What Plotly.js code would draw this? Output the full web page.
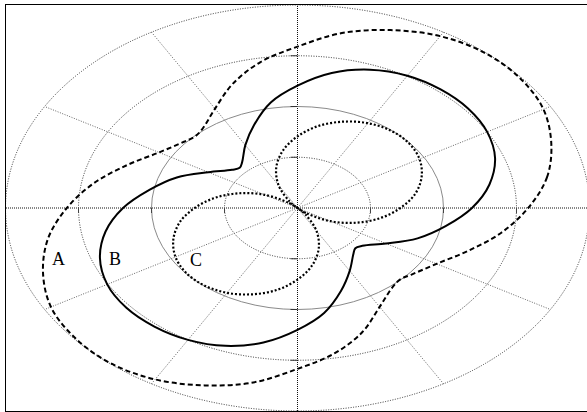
<!DOCTYPE html>
<html>
<head>
<meta charset="utf-8">
<script src="https://cdn.plot.ly/plotly-3.0.1.min.js"></script>
<style>html,body{margin:0;padding:0;background:#fff;}#chart{width:587px;height:412px;}</style>
</head>
<body>
<div id="chart"></div>
<script>
// Angles (degrees) at which the radii were read
var theta = [0,10,20,30,40,50,60,70,80,90,100,110,120,130,135,140,150,160,170,180,
             190,200,210,220,230,240,250,260,270,280,290,300,310,315,320,330,340,350,360];
// Curve A (dashed)
var rA = [3.16,3.47,3.70,3.89,3.98,3.99,3.91,3.73,3.50,3.18,2.92,2.60,2.26,2.03,1.99,2.03,2.19,2.48,2.83,3.16,
          3.47,3.71,3.90,3.98,3.99,3.90,3.72,3.49,3.17,2.91,2.60,2.25,2.03,1.99,2.04,2.20,2.48,2.83,3.16];
// Curve B (solid)
var rB = [2.39,2.67,2.88,3.00,3.05,3.05,3.01,2.90,2.70,2.41,2.11,1.74,1.43,1.18,1.12,1.17,1.41,1.76,2.06,2.39,
          2.67,2.88,3.01,3.06,3.05,3.00,2.89,2.69,2.40,2.10,1.74,1.43,1.19,1.12,1.16,1.40,1.75,2.06,2.39];
// Curve C (dotted)
var rC = [1.41,1.64,1.81,1.93,1.99,1.99,1.93,1.81,1.64,1.41,1.15,0.85,0.52,0.17,0.00,0.17,0.52,0.85,1.15,1.41,
          1.64,1.81,1.93,1.99,1.99,1.93,1.81,1.64,1.41,1.15,0.85,0.52,0.17,0.00,0.17,0.52,0.85,1.15,1.41];
// Grid
var rings = [1,2,3,4];
var spokes = [30,60,120,150,210,240,300,330];
var tickR = [-3,-2,-1,1,2,3];
// Curve labels
var labels = ['A','B','C'];
var labelR = [3.43,2.70,1.73];
var labelAng = [197,202,216.5];

var D = Math.PI/180;
function toXY(th, r){
  var x=[], y=[];
  for (var i=0;i<th.length;i++){ x.push(r[i]*Math.cos(th[i]*D)); y.push(r[i]*Math.sin(th[i]*D)); }
  return {x:x,y:y};
}
var A = toXY(theta, rA), B = toXY(theta, rB);

// split C into its two lobes (the curve passes through the origin at 135 and 315 deg)
var i135 = theta.indexOf(135), i315 = theta.indexOf(315);
var th1 = [], r1 = [];
for (var i=i315;i<theta.length-1;i++){ th1.push(theta[i]); r1.push(rC[i]); }
for (var i=0;i<=i135;i++){ th1.push(theta[i]); r1.push(rC[i]); }
var th2 = theta.slice(i135, i315+1), r2 = rC.slice(i135, i315+1);
var C1 = toXY(th1, r1), C2 = toXY(th2, r2);

var traces = [
  {x:A.x, y:A.y, mode:'lines', line:{color:'#000', width:2, dash:'5px,3px', shape:'spline', smoothing:1}, hoverinfo:'skip'},
  {x:B.x, y:B.y, mode:'lines', line:{color:'#000', width:2, shape:'spline', smoothing:1}, hoverinfo:'skip'},
  {x:C1.x, y:C1.y, mode:'lines', line:{color:'#000', width:2.2, dash:'2px,2px', shape:'spline', smoothing:1}, hoverinfo:'skip'},
  {x:C2.x, y:C2.y, mode:'lines', line:{color:'#000', width:2.2, dash:'2px,2px', shape:'spline', smoothing:1}, hoverinfo:'skip'}
];

var shapes = [];
rings.forEach(function(r){
  shapes.push({type:'circle', xref:'x', yref:'y', x0:-r, x1:r, y0:-r, y1:r, layer:'below',
    line:{color: r===2 ? '#8a8a8a' : '#333', width:1, dash: r===2 ? 'solid' : '1px,1.5px'}});
});
spokes.forEach(function(a){
  shapes.push({type:'line', xref:'x', yref:'y', x0:0, y0:0, x1:4*Math.cos(a*D), y1:4*Math.sin(a*D), layer:'below',
    line:{color:'#666', width:1, dash:'1px,1.5px'}});
});
shapes.push({type:'line', xref:'paper', yref:'y', x0:0, x1:1, y0:0, y1:0, layer:'below', line:{color:'#111', width:1, dash:'1px,1px'}});
shapes.push({type:'line', xref:'x', yref:'paper', x0:0, x1:0, y0:0, y1:1, layer:'below', line:{color:'#111', width:1, dash:'1px,1px'}});
// small tick marks where the rings cross the centre axes
tickR.forEach(function(r){
  shapes.push({type:'line', xref:'x', yref:'y', xsizemode:'pixel', xanchor:0, x0:-7, x1:0, y0:r, y1:r,
    line:{color:'#333', width:1}});
  shapes.push({type:'line', xref:'x', yref:'y', ysizemode:'pixel', yanchor:0, y0:-5, y1:0, x0:r, x1:r,
    line:{color:'#444', width:1}});
});

var annotations = labels.map(function(t,i){
  return {x:labelR[i]*Math.cos(labelAng[i]*D), y:labelR[i]*Math.sin(labelAng[i]*D), xref:'x', yref:'y',
    text:t, showarrow:false, xanchor:'center', yanchor:'middle',
    font:{family:'Liberation Serif, Times New Roman, serif', size:18, color:'#000'}};
});

var layout = {
  width:587, height:412,
  margin:{l:6, r:0, t:5, b:1, pad:0},
  paper_bgcolor:'#fff', plot_bgcolor:'#fff',
  showlegend:false,
  xaxis:{range:[-291.5/73, 289.5/73], showgrid:false, zeroline:false, showticklabels:false, ticks:'',
         showline:true, mirror:true, linecolor:'#000', linewidth:1.5, fixedrange:true},
  yaxis:{range:[-4,4], showgrid:false, zeroline:false, showticklabels:false, ticks:'',
         showline:true, mirror:false, linecolor:'#000', linewidth:1.5, fixedrange:true},
  shapes:shapes,
  annotations:annotations
};

Plotly.newPlot('chart', traces, layout, {staticPlot:true, displayModeBar:false});
</script>
</body>
</html>
